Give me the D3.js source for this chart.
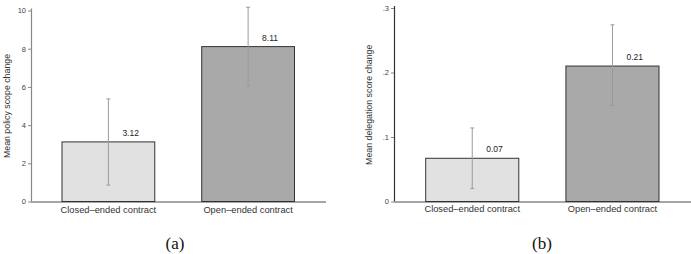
<!DOCTYPE html>
<html>
<head>
<meta charset="utf-8">
<script src="https://cdn.jsdelivr.net/npm/d3@7"></script>
<style>
    body { margin: 0; background: #fff; }
    text { font-family: "Liberation Sans", Arial, sans-serif; }
</style>
</head>
<body>
<div id="chart"></div>
<script>
const categories = ["Closed\u2013ended contract", "Open\u2013ended contract"];

// panel (a)
const scopeMeans = [3.12, 8.11];
const scopeLow = [0.86, 6.05];
const scopeHigh = [5.37, 10.17];
const scopeTicks = [0, 2, 4, 6, 8, 10];
const scopeTickLabels = ["0", "2", "4", "6", "8", "10"];

// panel (b)
const delegMeans = [0.067, 0.21];
const delegLabels = ["0.07", "0.21"];
const delegLow = [0.020, 0.149];
const delegHigh = [0.114, 0.274];
const delegTicks = [0, 0.1, 0.2, 0.3];
const delegTickLabels = ["0", ".1", ".2", ".3"];

const COLORS = { light: "#e1e1e1", dark: "#a9a9a9", stroke: "#333", err: "#9a9a9a" };
const W = 691, H = 254;

const svg = d3.select("#chart")
    .append("svg")
    .attr("width", W)
    .attr("height", H);

function panel(opts) {
    const g = svg.append("g").attr("transform", `translate(${opts.left}, 0)`);

    const x = d3.scaleBand()
        .domain(categories)
        .range(opts.barRange)
        .paddingInner(0.336)
        .paddingOuter(0);

    const y = d3.scaleLinear()
        .domain([0, opts.max])
        .range([201.5, 201.5 - opts.max * opts.pxPerUnit]);

    // y axis
    const yAxis = g.append("g")
        .call(d3.axisLeft(y)
            .tickValues(opts.ticks)
            .tickFormat((d, i) => opts.tickLabels[i])
            .tickSize(3)
            .tickPadding(2)
            .tickSizeOuter(0));
    yAxis.select("path.domain").remove();
    yAxis.selectAll("line").attr("stroke", "#888");
    yAxis.selectAll("text").attr("fill", "#444").style("font-size", "7.5px");
    g.append("line")
        .attr("x1", 0.5).attr("x2", 0.5)
        .attr("y1", y(opts.max) - 2).attr("y2", y(0))
        .attr("stroke", opts.yLineColor)
        .attr("stroke-width", 1.2);

    // x axis line
    g.append("line")
        .attr("x1", 0).attr("x2", opts.xLineLen)
        .attr("y1", y(0) + 0.5).attr("y2", y(0) + 0.5)
        .attr("stroke", "#888")
        .attr("stroke-width", 1.5);

    // bars
    const bars = categories.map((c, i) => ({
        name: c, value: opts.means[i], lo: opts.low[i], hi: opts.high[i],
        label: opts.labels[i], fill: i === 0 ? COLORS.light : COLORS.dark
    }));

    g.selectAll("rect.bar")
        .data(bars)
        .enter()
        .append("rect")
        .attr("class", "bar")
        .attr("x", d => x(d.name))
        .attr("y", d => y(d.value))
        .attr("width", x.bandwidth())
        .attr("height", d => y(0) - y(d.value))
        .attr("fill", d => d.fill)
        .attr("stroke", COLORS.stroke)
        .attr("stroke-width", 1);

    // error bars
    const cx = d => x(d.name) + x.bandwidth() / 2;
    const err = g.selectAll("g.err").data(bars).enter().append("g")
        .attr("stroke", COLORS.err).attr("stroke-width", 1);
    err.append("line")
        .attr("x1", cx).attr("x2", cx)
        .attr("y1", d => y(d.hi)).attr("y2", d => y(d.lo));
    err.append("line")
        .attr("x1", d => cx(d) - 2).attr("x2", d => cx(d) + 2)
        .attr("y1", d => y(d.hi)).attr("y2", d => y(d.hi));
    err.append("line")
        .attr("x1", d => cx(d) - 2).attr("x2", d => cx(d) + 2)
        .attr("y1", d => y(d.lo)).attr("y2", d => y(d.lo));

    // value labels
    g.selectAll("text.val").data(bars).enter().append("text")
        .attr("x", d => cx(d) + 14)
        .attr("y", d => y(d.value) - 6)
        .style("font-size", "8.5px")
        .attr("fill", "#222")
        .text(d => d.label);

    // category labels
    g.selectAll("text.cat").data(bars).enter().append("text")
        .attr("x", cx)
        .attr("y", y(0) + opts.catOffset)
        .attr("text-anchor", "middle")
        .style("font-size", "9.3px")
        .attr("fill", "#333")
        .text(d => d.name);

    // y title
    g.append("text")
        .attr("transform", `translate(${opts.titleX}, ${(y(0) + y(opts.max)) / 2}) rotate(-90)`)
        .attr("text-anchor", "middle")
        .style("font-size", "8.8px")
        .attr("fill", "#333")
        .text(opts.title);

    // panel letter
    g.append("text")
        .attr("x", opts.letterX)
        .attr("y", 249)
        .attr("text-anchor", "middle")
        .style("font-family", "'Liberation Serif', 'Times New Roman', serif")
        .style("font-size", "17px")
        .attr("fill", "#111")
        .text(opts.letter);
}

panel({
    left: 31, barRange: [31, 263.5], max: 10, pxPerUnit: 19.1,
    means: scopeMeans, low: scopeLow, high: scopeHigh,
    labels: scopeMeans.map(d => d.toFixed(2)),
    ticks: scopeTicks, tickLabels: scopeTickLabels,
    yLineColor: "#888", xLineLen: 295, catOffset: 11,
    title: "Mean policy scope change", titleX: -21.5,
    letter: "(a)", letterX: 144
});

panel({
    left: 394, barRange: [31.7, 265], max: 0.3, pxPerUnit: 645,
    means: delegMeans, low: delegLow, high: delegHigh,
    labels: delegLabels,
    ticks: delegTicks, tickLabels: delegTickLabels,
    yLineColor: "#333", xLineLen: 297, catOffset: 10,
    title: "Mean delegation score change", titleX: -22,
    letter: "(b)", letterX: 148
});
</script>
</body>
</html>
